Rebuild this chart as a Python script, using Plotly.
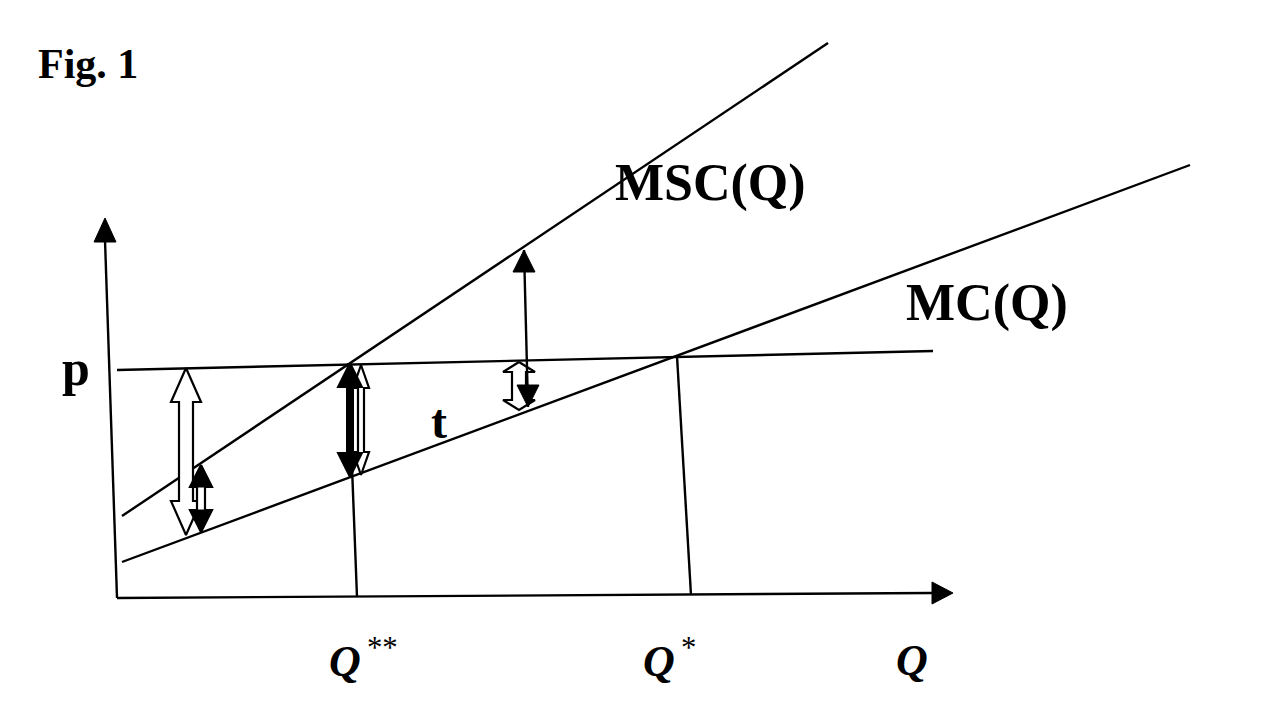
import plotly.graph_objects as go

# ---- diagram data (pixel-like coordinates of a 1278x722 canvas, y downward) ----
# straight lines: [x0, x1], [y0, y1]
msc_x = [122, 828]
msc_y = [516, 43]
mc_x = [122, 1190]
mc_y = [562, 165]
price_x = [117, 933]
price_y = [370, 351]
q2star_x = [348, 357]
q2star_y = [363, 597]
q1star_x = [677, 691]
q1star_y = [356, 595]
yaxis_x = [117, 105]
yaxis_y = [598, 240]
xaxis_x = [117, 932]
xaxis_y = [598, 593]

# double-headed arrows: x centre, y top, y bottom, head length, head half width, shaft half width, style
arrow_x = [186, 201, 361, 350, 519]
arrow_top = [368, 465, 365, 363, 362]
arrow_bot = [535, 532, 475, 477, 410]
arrow_hl = [34, 22, 23, 24, 10]
arrow_hw = [15, 11, 8, 12, 16]
arrow_sw = [7, 4, 3, 3, 7]
arrow_style = ["hollow", "blackheads", "hollow", "black", "hollow"]

# thin black double arrow (line with two heads)
thin_x = [524, 528]
thin_y = [250, 407]

labels = ["<b>Fig. 1</b>", "<b>MSC(Q)</b>", "<b>MC(Q)</b>", "<b>p</b>", "<b>t</b>",
          "<b><i>Q</i></b><sup>&#8201;**</sup>", "<b><i>Q</i></b><sup>&#8201;*</sup>", "<b><i>Q</i></b>"]
label_x = [36, 613, 904, 60, 429, 327, 641, 894]
label_y = [64, 183, 303, 368, 421, 658, 658, 660]
label_size = [42, 52, 52, 50, 48, 44, 44, 44]

fig = go.Figure()

def add_line(xs, ys, w=2.4):
    fig.add_trace(go.Scatter(x=xs, y=ys, mode="lines", line=dict(color="black", width=w),
                             hoverinfo="skip"))

def add_poly(xs, ys, fill, w=2.2):
    fig.add_trace(go.Scatter(x=xs + [xs[0]], y=ys + [ys[0]], mode="lines", fill="toself",
                             fillcolor=fill, line=dict(color="black", width=w), hoverinfo="skip"))

for xs, ys in [(msc_x, msc_y), (mc_x, mc_y), (price_x, price_y), (q2star_x, q2star_y),
               (q1star_x, q1star_y), (yaxis_x, yaxis_y), (xaxis_x, xaxis_y)]:
    add_line(xs, ys)

# axis arrowheads
add_poly([105, 116, 94], [218, 242, 242], "black", 1)
add_poly([953, 932, 932], [593, 582, 604], "black", 1)

for x, yt, yb, hl, hw, sw, st in zip(arrow_x, arrow_top, arrow_bot, arrow_hl, arrow_hw,
                                     arrow_sw, arrow_style):
    px = [x, x + hw, x + sw, x + sw, x + hw, x, x - hw, x - sw, x - sw, x - hw]
    py = [yt, yt + hl, yt + hl, yb - hl, yb - hl, yb, yb - hl, yb - hl, yt + hl, yt + hl]
    if st == "black":
        add_poly(px, py, "black", 2)
    else:
        add_poly(px, py, "white", 2.2)
        if st == "blackheads":
            add_poly([x, x + hw, x - hw], [yt, yt + hl, yt + hl], "black", 1)
            add_poly([x, x + hw, x - hw], [yb, yb - hl, yb - hl], "black", 1)

# thin arrow
add_line(thin_x, thin_y, 2.4)
add_poly([thin_x[0], thin_x[0] + 11, thin_x[0] - 11], [thin_y[0], thin_y[0] + 22, thin_y[0] + 22], "black", 1)
add_poly([thin_x[1], thin_x[1] + 11, thin_x[1] - 11], [thin_y[1], thin_y[1] - 22, thin_y[1] - 22], "black", 1)

for t, x, y, s in zip(labels, label_x, label_y, label_size):
    fig.add_annotation(text=t, x=x, y=y, xref="x", yref="y", xanchor="left", yanchor="middle",
                       showarrow=False, font=dict(family="Liberation Serif", size=s, color="black"))

fig.update_layout(
    width=1278, height=722, margin=dict(l=0, r=0, t=0, b=0),
    paper_bgcolor="white", plot_bgcolor="white", showlegend=False,
    xaxis=dict(range=[0, 1278], visible=False, fixedrange=True),
    yaxis=dict(range=[722, 0], visible=False, fixedrange=True),
)
fig.write_html("out.html", post_script="document.body.style.margin='0';", config={"displayModeBar": False})
